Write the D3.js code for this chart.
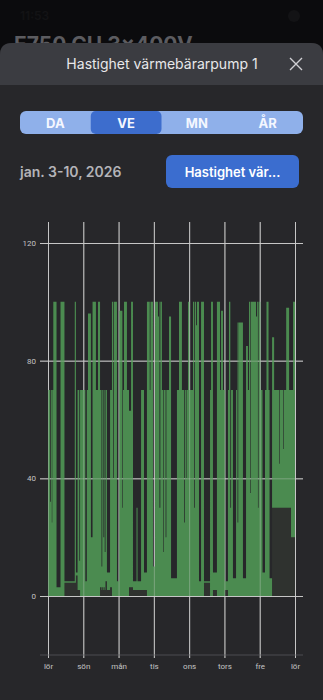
<!DOCTYPE html>
<html>
<head>
<meta charset="utf-8">
<script src="https://cdn.jsdelivr.net/npm/d3@7"></script>
<style>
  html, body { margin: 0; padding: 0; background: #0b0b0d; }
  svg { display: block; }
</style>
</head>
<body>
<svg id="chart" width="323" height="700"></svg>
<script>
// -----------------------------------------------------------------------------
// data: speed of heat-carrier pump 1, one week.
// each segment starts at segStart (hours after jan 3 00:00) and keeps the
// bucket's max (segMax) and min (segMin) until the next segment starts.

var segStart = [
  0, 1.4, 1.9, 2.6, 2.9, 3.6, 5.8, 8.5, 11.2, 18.2, 19.0, 20.1, 21.3, 21.8,
  25.4, 26.4, 27.2, 29.2, 30.3, 32.6, 34.0, 35.4, 36.4, 36.9, 37.7, 38.2,
  38.6, 39.1, 40.1, 42.2, 43.5, 44.2, 44.7, 46.9,
  48.3, 50.6, 51.0, 51.7, 53.7, 55.1, 56.5, 57.8, 60.2, 60.9, 63.3, 65.3,
  67.3, 69.2, 69.7, 71.4,
  72.8, 74.8, 75.5, 75.8, 76.4, 77.5, 78.5, 78.9, 80.0, 80.5, 82.3, 83.7,
  87.7, 89.1, 91.1, 92.5, 93.0, 93.8, 94.2, 95.2,
  96.2, 98.6, 99.3, 99.8, 100.7, 101.3, 102.7, 104.1, 106.1, 110.2, 110.9,
  112.2, 114.9, 117.0, 117.7, 119.0,
  120.4, 122.4, 123.1, 124.0, 124.5, 125.8, 127.9, 128.6, 128.9, 129.4,
  132.6, 134.7, 136.0, 136.7, 137.6, 138.0, 141.5, 142.2, 142.8, 143.2,
  144.5, 145.9, 147.6, 148.6, 150.0, 150.7, 152.4, 153.8, 157.4, 157.8,
  160.1, 160.5, 162.0, 164.0, 165.3, 166.7, 168
];

var segMax = [
  70, 32, 70, 25, 70, 100, 3, 100, 5, 100, 8, 70, 12, 70,
  5, 70, 96, 20, 100, 70, 100, 70, 10, 70, 20, 70,
  15, 70, 8, 70, 100, 40, 100, 5,
  97, 30, 70, 100, 70, 63, 100, 5, 30, 5, 70, 8,
  100, 70, 100, 10,
  100, 95, 100, 30, 100, 70, 15, 70, 20, 70, 95, 6,
  70, 100, 70, 25, 70, 40, 70, 100,
  70, 100, 30, 100, 92, 100, 5, 100, 5, 70, 100,
  8, 100, 70, 97, 70,
  5, 70, 100, 30, 70, 6, 70, 93, 25, 93,
  6, 85, 70, 100, 35, 100, 95, 100, 30, 100,
  70, 8, 70, 100, 70, 6, 88, 70, 45, 70,
  50, 70, 98, 70, 70, 100, 100
];

var segMin = [
  0, 0, 0, 0, 0, 0, 0, 0, 4.5, 4.5, 7, 2, 2, 0,
  0, 0, 0, 0, 0, 0, 0, 3, 2, 3, 2, 3,
  2, 5, 2, 3, 0, 0, 0, 0,
  0, 0, 0, 0, 0, 3, 3, 2, 2, 2, 2, 2,
  0, 0, 0, 0,
  0, 0, 0, 0, 0, 0, 0, 0, 0, 0, 0, 0,
  0, 0, 0, 0, 0, 0, 0, 0,
  0, 0, 0, 0, 0, 0, 0, 0, 4.5, 0, 0,
  2, 0, 0, 0, 0,
  2, 0, 0, 0, 0, 0, 0, 0, 0, 0,
  0, 0, 0, 0, 0, 0, 0, 0, 0, 0,
  0, 0, 0, 0, 0, 0, 30, 30, 30, 30,
  30, 30, 30, 30, 20, 20, 20
];

var dayLabels = ['lör', 'sön', 'mån', 'tis', 'ons', 'tors', 'fre', 'lör'];
var yTicks = [0, 40, 80, 120];

var titleText = 'Hastighet värmebärarpump 1';
var periodLabels = ['DA', 'VE', 'MN', 'ÅR'];
var selectedPeriod = 1;
var dateText = 'jan. 3-10, 2026';
var seriesButtonText = 'Hastighet vär...';

// -----------------------------------------------------------------------------

var svg = d3.select('#chart');
var W = 323;

// - - - - - - - - - - - - - - - - - - - - - - - - - - - - - - - - - - - - - - -
// app screen behind the sheet

svg.append('text')
  .attr('x', 20).attr('y', 20)
  .attr('font-family', 'Inter, sans-serif')
  .attr('font-size', 12).attr('font-weight', 600)
  .attr('fill', '#131315')
  .text('11:53');

svg.append('text')
  .attr('x', 14).attr('y', 52)
  .attr('font-family', 'Inter, sans-serif')
  .attr('font-size', 21).attr('font-weight', 700)
  .attr('fill', '#5c5c60')
  .text('E750 CU 3x400V');

svg.append('circle')
  .attr('cx', 294).attr('cy', 16).attr('r', 6)
  .attr('fill', '#131315');

// - - - - - - - - - - - - - - - - - - - - - - - - - - - - - - - - - - - - - - -
// sheet

svg.append('path')
  .attr('d', 'M0,55 Q0,43 12,43 L' + (W - 12) + ',43 Q' + W + ',43 ' + W + ',55 L' + W + ',700 L0,700 Z')
  .attr('fill', '#27272a');

svg.append('path')
  .attr('d', 'M0,55 Q0,43 12,43 L' + (W - 12) + ',43 Q' + W + ',43 ' + W + ',55 L' + W + ',85 L0,85 Z')
  .attr('fill', '#3b3c41');

svg.append('text')
  .attr('x', 162).attr('y', 69)
  .attr('text-anchor', 'middle')
  .attr('font-family', 'Inter, sans-serif')
  .attr('font-size', 14)
  .attr('fill', '#e8e8ea')
  .text(titleText);

svg.append('path')
  .attr('d', 'M290,58 L302,70 M302,58 L290,70')
  .attr('stroke', '#d0d0d4')
  .attr('stroke-width', 1.4);

// - - - - - - - - - - - - - - - - - - - - - - - - - - - - - - - - - - - - - - -
// period selector

var segX = d3.scaleBand()
  .domain(periodLabels)
  .range([20, 303]);

svg.append('rect')
  .attr('x', 20).attr('y', 111)
  .attr('width', 283).attr('height', 23)
  .attr('rx', 6)
  .attr('fill', '#8fb0ea');

svg.append('rect')
  .attr('x', segX(periodLabels[selectedPeriod])).attr('y', 111)
  .attr('width', segX.bandwidth()).attr('height', 23)
  .attr('rx', 5)
  .attr('fill', '#3d6dcd');

svg.selectAll('text.period')
  .data(periodLabels)
  .join('text')
  .classed('period', true)
  .attr('x', function (d) { return segX(d) + segX.bandwidth() / 2; })
  .attr('y', 127.5)
  .attr('text-anchor', 'middle')
  .attr('font-family', 'Inter, sans-serif')
  .attr('font-size', 13).attr('font-weight', 700)
  .attr('fill', '#f4f7ff')
  .text(function (d) { return d; });

// - - - - - - - - - - - - - - - - - - - - - - - - - - - - - - - - - - - - - - -
// date + series button

svg.append('text')
  .attr('x', 20).attr('y', 177)
  .attr('font-family', 'Inter, sans-serif')
  .attr('font-size', 14).attr('font-weight', 600)
  .attr('fill', '#b4b4b8')
  .text(dateText);

svg.append('rect')
  .attr('x', 166).attr('y', 155)
  .attr('width', 133).attr('height', 33)
  .attr('rx', 6)
  .attr('fill', '#3b6dcf');

svg.append('text')
  .attr('x', 232.5).attr('y', 176.5)
  .attr('text-anchor', 'middle')
  .attr('font-family', 'Inter, sans-serif')
  .attr('font-size', 13).attr('font-weight', 600)
  .attr('fill', '#ffffff')
  .text(seriesButtonText);

// - - - - - - - - - - - - - - - - - - - - - - - - - - - - - - - - - - - - - - -
// chart

var t0 = new Date(2026, 0, 3);
var hourMs = 3600 * 1000;

var x = d3.scaleTime()
  .domain([t0, new Date(t0.getTime() + 168 * hourMs)])
  .range([48, 295]);

var y = d3.scaleLinear()
  .domain([0, 120])
  .range([596, 243]);

var dayTicks = dayLabels.map(function (d, i) {
  return new Date(t0.getTime() + i * 24 * hourMs);
});

var segments = segStart.map(function (s, i) {
  return {
    t: new Date(t0.getTime() + s * hourMs),
    hi: segMax[i],
    lo: segMin[i]
  };
});

function drawGrid(g, color, opacity, withLabels) {
  var yAxis = d3.axisLeft(y)
    .tickValues(yTicks)
    .tickSizeInner(-263)
    .tickSizeOuter(0)
    .tickPadding(4);

  var gy = g.append('g')
    .attr('transform', 'translate(40,0)')
    .call(yAxis);
  gy.select('.domain').remove();
  gy.selectAll('line')
    .attr('stroke', color)
    .attr('stroke-opacity', opacity);

  var xAxis = d3.axisBottom(x)
    .tickValues(dayTicks)
    .tickSizeInner(-436)
    .tickSizeOuter(0)
    .tickPadding(5)
    .tickFormat(function (d, i) { return dayLabels[i]; });

  var gx = g.append('g')
    .attr('transform', 'translate(0,658)')
    .call(xAxis);
  gx.select('.domain').remove();
  gx.selectAll('line')
    .attr('stroke', color)
    .attr('stroke-opacity', opacity);

  [gx, gy].forEach(function (ax) {
    ax.selectAll('text')
      .attr('font-family', 'Roboto, sans-serif')
      .attr('font-size', 8)
      .attr('fill', withLabels ? '#c4c4c4' : 'none');
  });
}

// grid below the data
var gGrid = svg.append('g');
drawGrid(gGrid, '#bdbdbd', 1, true);

svg.append('line')
  .attr('x1', 40).attr('x2', 303)
  .attr('y1', 655).attr('y2', 655)
  .attr('stroke', '#4c4c50')
  .attr('stroke-width', 1);

// faint fill under the bucket minimum
var lowArea = d3.area()
  .x(function (d) { return x(d.t); })
  .y0(function (d) { return y(0); })
  .y1(function (d) { return y(d.lo); })
  .curve(d3.curveStepAfter);

svg.append('path')
  .datum(segments)
  .attr('d', lowArea)
  .attr('fill', '#2f322f');

// min..max band
var band = d3.area()
  .x(function (d) { return x(d.t); })
  .y0(function (d) { return y(d.lo); })
  .y1(function (d) { return y(d.hi); })
  .curve(d3.curveStepAfter);

svg.append('path')
  .datum(segments)
  .attr('d', band)
  .attr('fill', '#4b8b50');

// grid showing faintly through the data
var gGridTop = svg.append('g');
drawGrid(gGridTop, '#d8d8d8', 0.35, false);

// -----------------------------------------------------------------------------
</script>
</body>
</html>
